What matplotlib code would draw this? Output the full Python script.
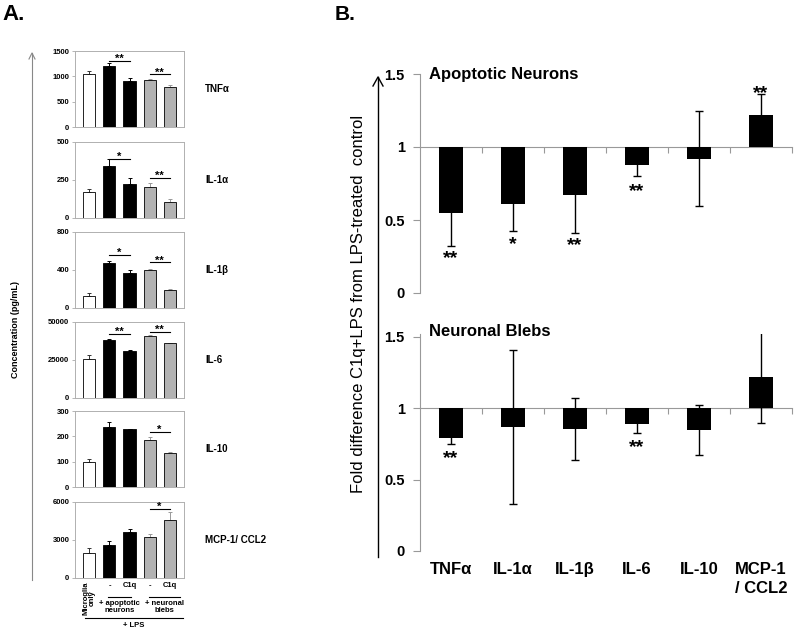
import matplotlib
matplotlib.use("Agg")
import matplotlib.pyplot as plt
from matplotlib.transforms import blended_transform_factory

plt.rcParams['font.family'] = ['Liberation Sans', 'DejaVu Sans']

# ---- panel A data (concentration, pg/mL) ----
a_cytokines = ["TNF\u03b1", "IL-1\u03b1", "IL-1\u03b2", "IL-6", "IL-10", "MCP-1/ CCL2"]
a_groups = ["Microglia\nonly", "-", "C1q", "-", "C1q"]

tnf_vals = [1050, 1210, 910, 930, 780]
tnf_err = [50, 60, 60, 25, 40]
il1a_vals = [170, 340, 225, 205, 105]
il1a_err = [20, 50, 35, 25, 20]
il1b_vals = [130, 470, 365, 395, 185]
il1b_err = [25, 25, 35, 20, 10]
il6_vals = [25500, 38000, 31000, 41000, 36000]
il6_err = [2500, 700, 500, 300, 500]
il10_vals = [97, 235, 228, 187, 135]
il10_err = [12, 22, 0, 12, 3]
mcp_vals = [2000, 2600, 3600, 3250, 4550]
mcp_err = [400, 300, 300, 200, 700]

a_yticks = [[0, 500, 1000, 1500], [0, 250, 500], [0, 400, 800],
            [0, 25000, 50000], [0, 100, 200, 300], [0, 3000, 6000]]

# significance bars: (from, to, height, label)
a_sig = [
    [(1, 2, 1300, "**"), (3, 4, 1040, "**")],
    [(1, 2, 390, "*"), (3, 4, 263, "**")],
    [(1, 2, 558, "*"), (3, 4, 481, "**")],
    [(1, 2, 42300, "**"), (3, 4, 43500, "**")],
    [(3, 4, 218, "*")],
    [(3, 4, 5450, "*")],
]

# ---- panel B data (fold difference) ----
b_labels = ["TNF\u03b1", "IL-1\u03b1", "IL-1\u03b2", "IL-6", "IL-10", "MCP-1\n/ CCL2"]
apo_vals = [0.55, 0.61, 0.67, 0.88, 0.92, 1.22]
apo_err = [0.225, 0.185, 0.26, 0.08, 0.325, 0.145]
apo_stars = ["**", "*", "**", "**", "", "**"]
bleb_vals = [0.79, 0.87, 0.855, 0.89, 0.845, 1.22]
bleb_err = [0.04, 0.54, 0.22, 0.065, 0.175, 0.32]
bleb_stars = ["**", "", "", "**", "", ""]

a_vals = [tnf_vals, il1a_vals, il1b_vals, il6_vals, il10_vals, mcp_vals]
a_errs = [tnf_err, il1a_err, il1b_err, il6_err, il10_err, mcp_err]

W, H = 800, 631
fig = plt.figure(figsize=(W / 100, H / 100), dpi=100)

bar_colors = ["white", "black", "black", "#b3b3b3", "#b3b3b3"]
err_colors = ["#333333", "black", "black", "#999999", "#999999"]
spine_gray = "#999999"

tops = [51, 142, 232, 322, 411, 502]
ax_h = 76
xs = range(5)
axes_a = []
for i, top in enumerate(tops):
    ax = fig.add_axes([75 / W, 1 - (top + ax_h) / H, 109 / W, ax_h / H])
    axes_a.append(ax)
    vals = a_vals[i]
    errs = a_errs[i]
    ax.bar(xs, vals, width=0.6, color=bar_colors, edgecolor="black", linewidth=0.6, zorder=2)
    for x, v, e, c in zip(xs, vals, errs, err_colors):
        ax.errorbar(x, v, yerr=[[0], [e]], fmt="none", ecolor=c, elinewidth=0.7,
                    capsize=1.2, capthick=0.7, zorder=1)
    ymax = a_yticks[i][-1]
    ax.set_ylim(0, ymax)
    ax.set_xlim(-0.72, 4.72)
    ax.set_yticks(a_yticks[i])
    ax.set_yticklabels([str(t) for t in a_yticks[i]], fontsize=5.5, fontweight="bold")
    ax.set_xticks([])
    ax.tick_params(axis="y", length=2, width=0.5, color=spine_gray, pad=2)
    for sp in ax.spines.values():
        sp.set_color("#b0b0b0")
        sp.set_linewidth(0.7)
    for x0, x1, y, lab in a_sig[i]:
        ax.plot([x0, x1], [y, y], color="black", lw=0.8, clip_on=False)
        ax.text((x0 + x1) / 2, y - ymax * 0.04, lab, ha="center", va="bottom",
                fontsize=8, fontweight="bold")
    fig.text(205 / W, 1 - (top + ax_h / 2) / H, a_cytokines[i], fontsize=7,
             fontweight="bold", ha="left", va="center")

# group labels under the last panel A axes
ax = axes_a[-1]
tr = blended_transform_factory(ax.transData, ax.transAxes)
for x, g in zip(xs, a_groups):
    if x == 0:
        ax.text(x, -0.05, g, rotation=90, ha="center", va="top", fontsize=5.5,
                fontweight="bold", transform=tr, linespacing=0.9)
    else:
        ax.text(x, -0.1, g, ha="center", va="center", fontsize=5.5,
                fontweight="bold", transform=tr)
ax.plot([0.93, 2.09], [-0.25, -0.25], color="black", lw=0.8, transform=tr, clip_on=False)
ax.plot([2.97, 4.53], [-0.25, -0.25], color="black", lw=0.8, transform=tr, clip_on=False)
ax.text(1.5, -0.29, "+ apoptotic\nneurons", ha="center", va="top", fontsize=5.5,
        fontweight="bold", transform=tr, linespacing=1.0)
ax.text(3.75, -0.29, "+ neuronal\nblebs", ha="center", va="top", fontsize=5.5,
        fontweight="bold", transform=tr, linespacing=1.0)
ax.plot([-0.21, 4.68], [-0.53, -0.53], color="black", lw=0.8, transform=tr, clip_on=False)
ax.text(2.2, -0.58, "+ LPS", ha="center", va="top", fontsize=5.5,
        fontweight="bold", transform=tr)

# panel A outer arrow and y label
fig.add_artist(plt.Line2D([32 / W, 32 / W], [1 - 580 / H, 1 - 53 / H], color="#888888", lw=0.8))
fig.add_artist(plt.Line2D([29 / W, 32 / W, 35 / W], [1 - 59 / H, 1 - 53 / H, 1 - 59 / H],
                          color="#888888", lw=0.8))
fig.text(16 / W, 1 - 330 / H, "Concentration (pg/mL)", rotation=90, ha="center",
         va="center", fontsize=6.5, fontweight="bold")

fig.text(14 / W, 1 - 14 / H, "A.", fontsize=16, fontweight="bold", ha="center", va="center")
fig.text(345 / W, 1 - 15 / H, "B.", fontsize=15, fontweight="bold", ha="center", va="center")


# ---- panel B ----
def fold_panel(rect, vals, errs, stars, title, ytop, title_y, star_pos, show_labels):
    ax = fig.add_axes(rect)
    xb = range(len(vals))
    heights = [v - 1 for v in vals]
    ax.bar(xb, heights, bottom=1, width=0.39, color="black", zorder=2)
    ax.errorbar(xb, vals, yerr=errs, fmt="none", ecolor="black", elinewidth=1.0,
                capsize=2.8, capthick=1.0, zorder=3)
    for x, s, y in zip(xb, stars, star_pos):
        if s:
            ax.text(x, y, s, ha="center", va="center", fontsize=14, fontweight="bold")
    ax.set_xlim(-0.5, len(vals) - 0.5)
    ax.set_ylim(0, ytop)
    ax.spines["top"].set_visible(False)
    ax.spines["right"].set_visible(False)
    ax.spines["left"].set_color(spine_gray)
    ax.spines["bottom"].set_position(("data", 1))
    ax.spines["bottom"].set_color(spine_gray)
    ax.spines["bottom"].set_zorder(1)
    ax.set_xticks([x + 0.5 for x in xb])
    ax.set_xticklabels([])
    ax.tick_params(axis="x", length=4, color=spine_gray, direction="out")
    ax.set_yticks([0, 0.5, 1, 1.5])
    ax.set_yticklabels(["0", "0.5", "1", "1.5"], fontsize=10.5, fontweight="bold")
    ax.tick_params(axis="y", length=5, color=spine_gray, pad=6)
    ax.text(0.025, title_y, title, transform=blended_transform_factory(ax.transAxes, ax.transData),
            fontsize=12, fontweight="bold", ha="left", va="center")
    if show_labels:
        sec = ax.secondary_xaxis(0)
        sec.set_xticks(list(xb))
        sec.set_xticklabels(b_labels, fontsize=12, fontweight="bold", linespacing=1.3)
        sec.tick_params(length=0, pad=8)
        sec.spines["bottom"].set_visible(False)
    return ax


apo_star_y = [0.235, 0.335, 0.325, 0.695, 0, 1.365]
bleb_star_y = [0.645, 0, 0, 0.725, 0, 0]
fold_panel([420 / W, 1 - 293 / H, 372 / W, 219 / H], apo_vals, apo_err,
           apo_stars, "Apoptotic Neurons", 1.5, 1.5, apo_star_y, False)
fold_panel([420 / W, 1 - 551 / H, 372 / W, 217 / H], bleb_vals, bleb_err,
           bleb_stars, "Neuronal Blebs", 1.52, 1.535, bleb_star_y, True)

fig.add_artist(plt.Line2D([378 / W, 378 / W], [1 - 557 / H, 1 - 77 / H], color="black", lw=1.0))
fig.add_artist(plt.Line2D([373 / W, 378 / W, 383 / W], [1 - 86 / H, 1 - 77 / H, 1 - 86 / H],
                          color="black", lw=1.0))
fig.text(358 / W, 1 - 304 / H, "Fold difference C1q+LPS from LPS-treated  control",
         rotation=90, ha="center", va="center", fontsize=12)

fig.savefig("out.png", dpi=100)
